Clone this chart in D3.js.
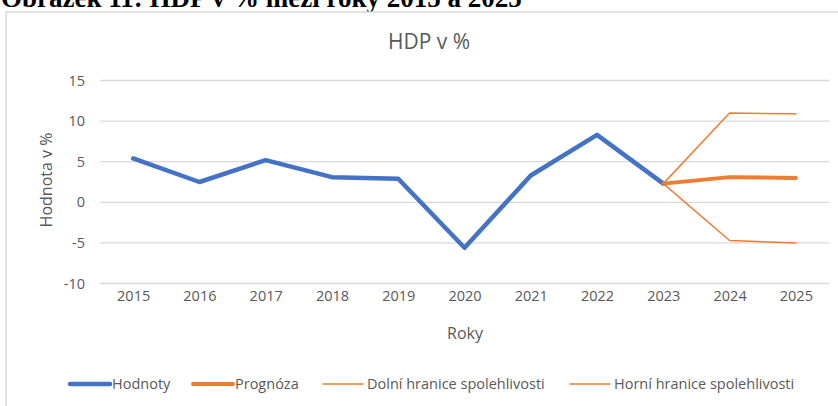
<!DOCTYPE html>
<html>
<head>
<meta charset="utf-8">
<script src="https://cdn.jsdelivr.net/npm/d3@7"></script>
<style>
  body { margin: 0; background: #fff; }
  svg { display: block; }
</style>
</head>
<body>
<div id="chart"></div>
<script>
// data
const years = ["2015", "2016", "2017", "2018", "2019", "2020", "2021", "2022", "2023", "2024", "2025"];
const hodnoty = [5.4, 2.5, 5.2, 3.1, 2.9, -5.6, 3.3, 8.3, 2.3];          // 2015-2023
const prognozaYears = ["2023", "2024", "2025"];
const prognoza = [2.3, 3.1, 3.0];
const dolniHranice = [2.3, -4.7, -5.0];
const horniHranice = [2.3, 11.0, 10.9];
const yTicks = [-10, -5, 0, 5, 10, 15];

const legendItems = [
    { name: "Hodnoty", color: "#4472C4", width: 4.5 },
    { name: "Prognóza", color: "#ED7D31", width: 4 },
    { name: "Dolní hranice spolehlivosti", color: "#ED7D31", width: 1.5 },
    { name: "Horní hranice spolehlivosti", color: "#ED7D31", width: 1.5 }
];

const W = 838, H = 406;
const textColor = "#595959";
const font = "'Open Sans', sans-serif";

const svg = d3.select("#chart").append("svg")
    .attr("width", W)
    .attr("height", H);

// caption above the chart (cut off at the top, like in the source)
svg.append("text")
    .attr("x", 1)
    .attr("y", 7)
    .attr("font-family", "'Liberation Serif', serif")
    .attr("font-weight", "bold")
    .attr("font-size", 27)
    .attr("fill", "#000")
    .text("Obrázek 11: HDP v % mezi roky 2015 a 2025");

// chart frame
svg.append("rect")
    .attr("x", 6)
    .attr("y", 12)
    .attr("width", 846)
    .attr("height", 420)
    .attr("fill", "#fff")
    .attr("stroke", "#D9D9D9")
    .attr("stroke-width", 1.5);

// title
svg.append("text")
    .attr("x", 429)
    .attr("y", 49)
    .attr("text-anchor", "middle")
    .attr("font-family", font)
    .attr("font-size", 21)
    .attr("fill", textColor)
    .text("HDP v %");

const x = d3.scalePoint()
    .domain(years)
    .range([100, 829])
    .padding(0.5);

const y = d3.scaleLinear()
    .domain([-10, 15])
    .range([283.5, 80.5]);

// gridlines
svg.append("g")
    .selectAll("line")
    .data(yTicks)
    .enter().append("line")
    .attr("x1", 100)
    .attr("x2", 829)
    .attr("y1", d => y(d))
    .attr("y2", d => y(d))
    .attr("stroke", "#D9D9D9")
    .attr("stroke-width", 1.3);

// y axis labels (plain hyphen for negatives, as in the source)
svg.append("g")
    .call(d3.axisLeft(y).tickValues(yTicks).tickFormat(d => String(d)).tickSize(0).tickPadding(0))
    .attr("transform", "translate(85,0)")
    .call(g => g.select(".domain").remove())
    .selectAll("text")
    .attr("font-family", font)
    .attr("font-size", 14.5)
    .attr("fill", textColor);

// x axis labels
svg.append("g")
    .attr("transform", "translate(0,291)")
    .call(d3.axisBottom(x).tickSize(0).tickPadding(0))
    .call(g => g.select(".domain").remove())
    .selectAll("text")
    .attr("font-family", font)
    .attr("font-size", 14.5)
    .attr("fill", textColor);

// axis titles
svg.append("text")
    .attr("transform", "translate(52,180) rotate(-90)")
    .attr("text-anchor", "middle")
    .attr("font-family", font)
    .attr("font-size", 16)
    .attr("fill", textColor)
    .text("Hodnota v %");

svg.append("text")
    .attr("x", 465)
    .attr("y", 339)
    .attr("text-anchor", "middle")
    .attr("font-family", font)
    .attr("font-size", 16)
    .attr("fill", textColor)
    .text("Roky");

const line = d3.line()
    .x(d => x(d[0]))
    .y(d => y(d[1]));

function drawSeries(xs, values, color, width) {
    svg.append("path")
        .datum(values.map((v, i) => [xs[i], v]))
        .attr("fill", "none")
        .attr("stroke", color)
        .attr("stroke-width", width)
        .attr("stroke-linejoin", "round")
        .attr("stroke-linecap", "round")
        .attr("d", line);
}

drawSeries(prognozaYears, dolniHranice, "#ED7D31", 1.5);
drawSeries(prognozaYears, horniHranice, "#ED7D31", 1.5);
drawSeries(years.slice(0, hodnoty.length), hodnoty, "#4472C4", 4.5);
drawSeries(prognozaYears, prognoza, "#ED7D31", 4);

// legend
const legendX = [70, 193, 323, 570];
const legend = svg.append("g");
legendItems.forEach((item, i) => {
    const g = legend.append("g").attr("transform", `translate(${legendX[i]},384)`);
    g.append("line")
        .attr("x1", 0).attr("x2", 40)
        .attr("stroke", item.color)
        .attr("stroke-width", item.width)
        .attr("stroke-linecap", "round");
    g.append("text")
        .attr("x", i < 2 ? 42 : 44)
        .attr("dy", "0.35em")
        .attr("font-family", font)
        .attr("font-size", 14.5)
        .attr("fill", textColor)
        .text(item.name);
});
</script>
</body>
</html>
